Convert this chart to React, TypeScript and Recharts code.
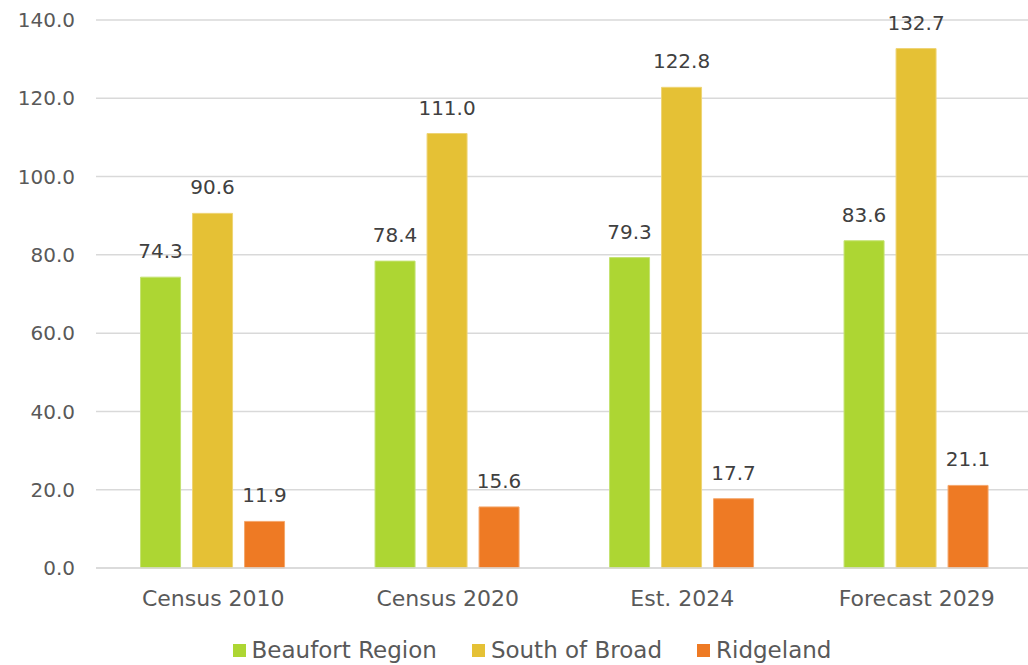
import React from 'react';
import { BarChart, Bar, XAxis, YAxis, CartesianGrid, Legend, LabelList } from 'recharts';

const categories = ['Census 2010', 'Census 2020', 'Est. 2024', 'Forecast 2029'];
const beaufortRegion = [74.3, 78.4, 79.3, 83.6];
const southOfBroad = [90.6, 111.0, 122.8, 132.7];
const ridgeland = [11.9, 15.6, 17.7, 21.1];
const yTicks = [0, 20, 40, 60, 80, 100, 120, 140];

const series = [
  { key: 'beaufort', name: 'Beaufort Region', fill: '#add633', stroke: '#c4e271' },
  { key: 'south', name: 'South of Broad', fill: '#e5c135', stroke: '#eed475' },
  { key: 'ridgeland', name: 'Ridgeland', fill: '#ee7a24', stroke: '#f4a76c' },
];

const data = categories.map((name, i) => ({
  name,
  beaufort: beaufortRegion[i],
  south: southOfBroad[i],
  ridgeland: ridgeland[i],
}));

const FONT = '"DejaVu Sans", sans-serif';
const TEXT = '#595959';

const SimpleLegend = () => (
  <div style={{ display: 'flex', justifyContent: 'center', gap: 35, height: 30, alignItems: 'center', fontFamily: FONT, paddingLeft: 30 }}>
    {series.map((s) => (
      <div key={s.key} style={{ display: 'flex', alignItems: 'center', gap: 6 }}>
        <span style={{ width: 13, height: 13, backgroundColor: s.fill, display: 'inline-block' }}></span>
        <span style={{ fontSize: 23, color: TEXT }}>{s.name}</span>
      </div>
    ))}
  </div>
);

const App: React.FC = () => {
  return (
    <div style={{ position: 'absolute', left: 0, top: 0, width: 1028, height: 665, background: '#fff', overflow: 'hidden' }}>
      <BarChart
        width={1034}
        height={665}
        data={data}
        margin={{ top: 20, right: 0, left: 0, bottom: 0 }}
        barCategoryGap="19%"
        barGap={12}
      >
        <CartesianGrid vertical={false} stroke="#d9d9d9" strokeWidth={1.5} />
        <XAxis
          dataKey="name"
          axisLine={{ stroke: '#d9d9d9', strokeWidth: 1.5 }}
          tickLine={false}
          height={67}
          tickMargin={16}
          tick={{ fontSize: 22, fill: TEXT, fontFamily: FONT }}
        />
        <YAxis
          domain={[0, 140]}
          ticks={yTicks}
          width={96}
          axisLine={false}
          tickLine={false}
          tickMargin={15}
          tickFormatter={(v: number) => v.toFixed(1)}
          tick={{ fontSize: 20, fill: TEXT, fontFamily: FONT }}
        />
        <Legend verticalAlign="bottom" content={<SimpleLegend />} wrapperStyle={{ height: 30 }} />
        {series.map((s) => (
          <Bar key={s.key} dataKey={s.key} name={s.name} fill={s.fill} stroke={s.stroke} strokeWidth={1} isAnimationActive={false}>
            <LabelList
              dataKey={s.key}
              position="top"
              offset={19}
              formatter={(v: number) => v.toFixed(1)}
              style={{ fontSize: 20, fill: '#404040', fontFamily: FONT }}
            />
          </Bar>
        ))}
      </BarChart>
    </div>
  );
};

export default App;
